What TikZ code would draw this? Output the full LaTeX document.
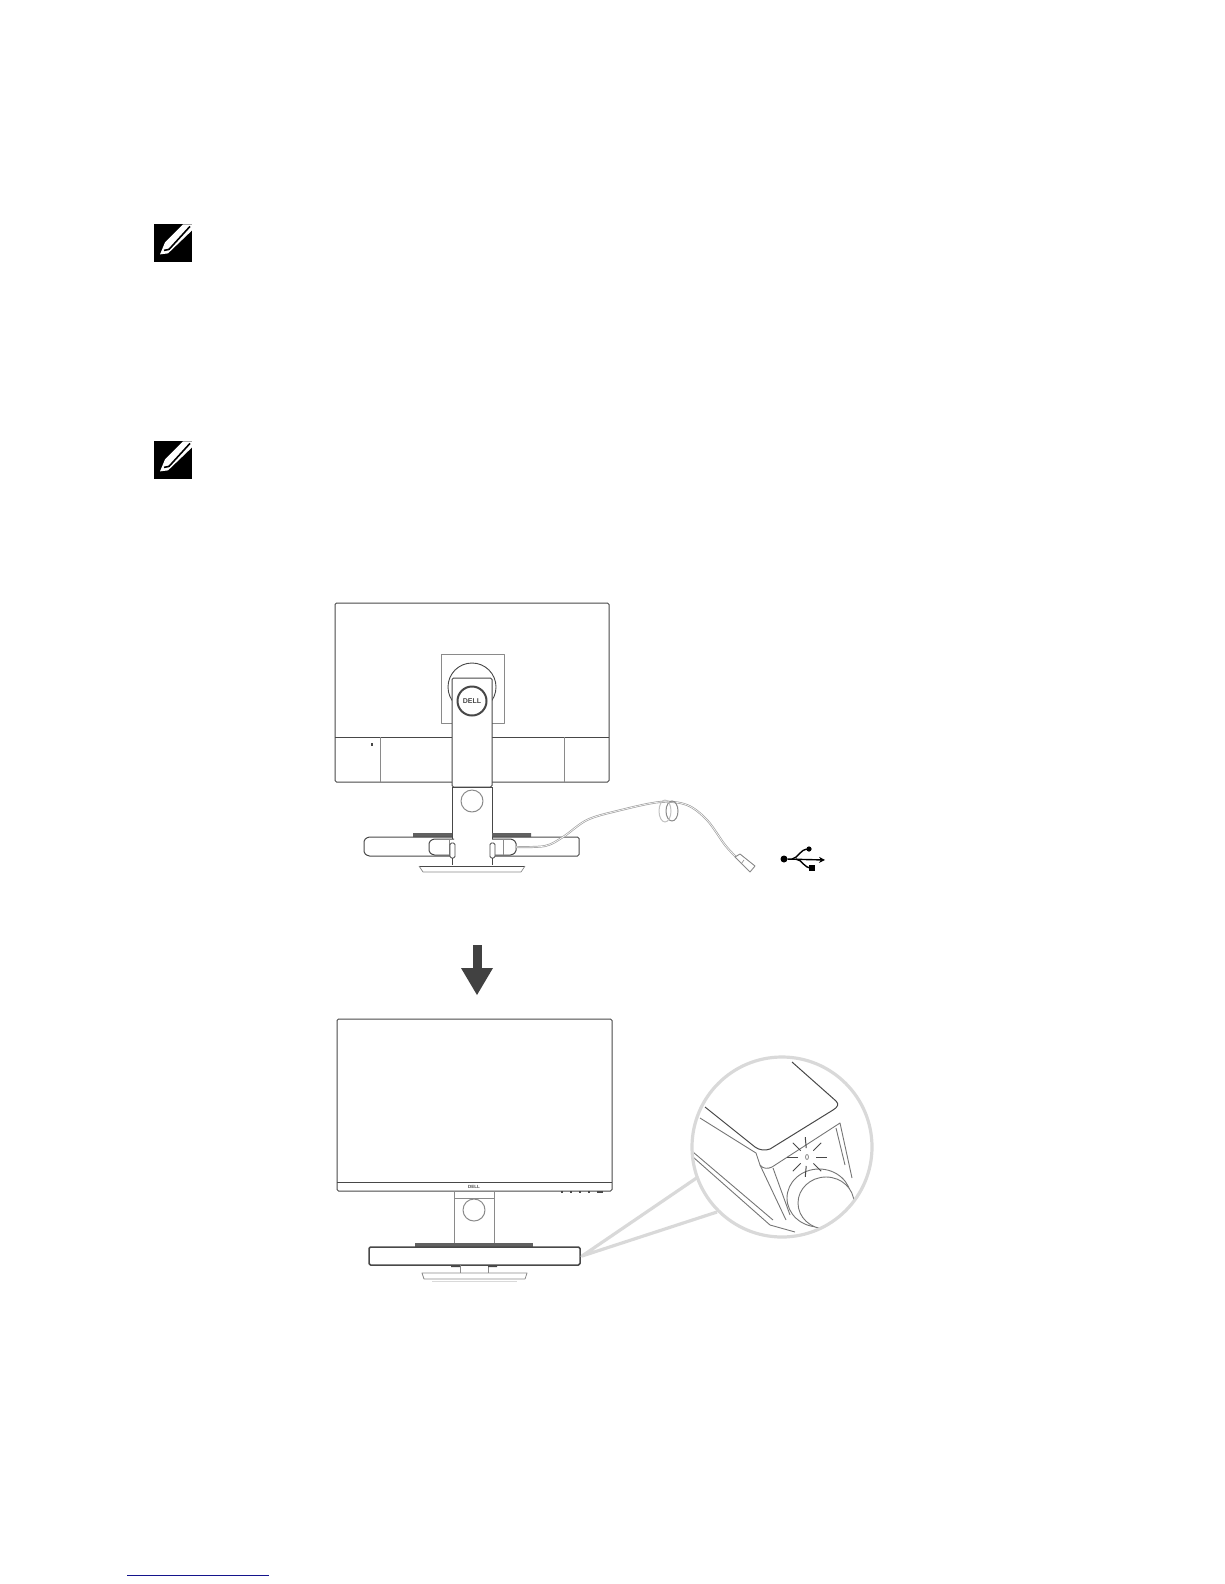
\documentclass[tikz,border=0pt]{standalone}
\usepackage{fontspec}
\setsansfont{Liberation Sans}
\usepackage{tikz}
\usetikzlibrary{arrows.meta,positioning}
\definecolor{inkgray}{HTML}{484848}
\definecolor{midgray}{HTML}{8A8A8A}
\definecolor{palegray}{HTML}{D9D9D9}
\definecolor{linkblue}{HTML}{14148C}
\begin{document}
\begin{tikzpicture}[x=1pt,y=-1pt,line join=round,
  hw/.style={draw=inkgray,line width=1pt,rounded corners=1.5pt},
  thin/.style={draw=midgray,line width=.8pt},
  detail/.style={draw=midgray!85!black,line width=.9pt},
  zoomline/.style={draw=palegray,line width=3.2pt},
  logo/.style={font=\sffamily\bfseries,inner sep=0pt,text=inkgray}]
\useasboundingbox (0,0) rectangle (1224,1584);
% note icons
\foreach \ny/\nm in {224/notea,441/noteb}{
  \node[fill=black,minimum size=38pt,inner sep=0pt,anchor=north west] (\nm) at (154,\ny) {};
  \fill[white] ([shift={(6,-8)}]\nm.south west) -- ++(5,-12) -- ++(18,-18) -- ++(9,0) -- ++(0,6) -- ++(-24,23) -- cycle;
  \draw[black,line width=1.6pt] ([shift={(10,-12)}]\nm.south west) -- ++(5,-1) -- ++(21,-23);
}
% rear view
\draw[hw] (335,603) rectangle (609,782);
\draw[hw] (335,737) -- (609,737);
\draw[thin] (380,737) -- (380,782) (564,737) -- (564,782);
\fill[inkgray] (371,743) rectangle (373,746);
\draw[thin,fill=white] (441,654) rectangle (504,723);
\node[draw=inkgray,line width=.9pt,circle,minimum size=48pt,inner sep=0pt] (mount) at (472,687) {};
\draw[hw,fill=white] (452,678) rectangle (492,787);
\draw[hw,fill=white] (452,787) -- (452,865) (492,787) -- (492,865) (452,787) -- (492,787);
\node[draw=inkgray,line width=2pt,circle,minimum size=29pt,inner sep=0pt,logo,font=\sffamily\bfseries\fontsize{7}{7}\selectfont] (dellrear) at (472,701) {DELL};
\node[draw=midgray,line width=1pt,circle,minimum size=22pt,inner sep=0pt] (holerear) at (472,801) {};
\fill[midgray!70!black] (413,833) rectangle (452,837) (492,833) rectangle (531,837);
\draw[hw] (452,837) -- (368,837) -- (364,840) -- (364,853) -- (368,856) -- (452,856);
\draw[hw] (492,837) -- (579,837) -- (579,856) -- (492,856);
\draw[hw,fill=white] (454,839) -- (433,839) -- (429,842) -- (429,852) -- (433,855) -- (454,855);
\draw[hw,fill=white] (492,839) -- (512,839) -- (516,842) -- (516,852) -- (512,855) -- (492,855);
\draw[thin] (449,839) -- (449,855) (503,839) -- (503,855);
\draw[hw,fill=white,line width=.8pt] (450,843) rectangle (455,858) (490,843) rectangle (495,858);
\draw[hw] (452,858) -- (452,865) (492,858) -- (492,865);
\draw[inkgray,line width=1pt] (419,866) -- (525,866);
\draw[midgray,line width=.7pt] (419,866) -- (423,872) -- (521,872) -- (525,866);
% cable
\coordinate (cablestart) at (516,847);
\coordinate (cableend) at (737,858);
\draw[midgray!80,line width=2pt] plot[smooth,tension=.55] coordinates {(cablestart) (545,846) (563,837) (587,820) (617,811) (660,802) (687,805) (707,820) (725,845) (cableend)};
\draw[white,line width=.6pt] plot[smooth,tension=.55] coordinates {(cablestart) (545,846) (563,837) (587,820) (617,811) (660,802) (687,805) (707,820) (725,845) (cableend)};
\draw[midgray,line width=1pt] (672,811) ellipse [x radius=6,y radius=10];
\draw[palegray!70!midgray,line width=1pt] (665,811) ellipse [x radius=6,y radius=11];
\draw[midgray,line width=.9pt,fill=white] (735,857) -- (740,854) -- (755,866) -- (750,872) -- cycle;
\draw[midgray,line width=.6pt] (744,860) -- (741,864);
% usb mark
\node[fill=black,circle,minimum size=7pt,inner sep=0pt] (usbdot) at (784,859) {};
\coordinate (usbtip) at (825,860);
\draw[black,line width=1.4pt,-{Stealth[length=6pt,width=6pt]}] (usbdot) -- (usbtip);
\draw[black,line width=1.4pt] (792,859) .. controls (799,858) and (799,849) .. (809,849);
\draw[black,line width=1.4pt] (796,859) .. controls (803,860) and (803,868) .. (812,868);
\fill[black] (809,849) circle (2.6pt);
\fill[black] (809,865) rectangle (815,871);
% down arrow
\coordinate (arrowtop) at (477,945);
\coordinate (arrowtip) at (477,995);
\fill[inkgray!90!black] (473,945) rectangle (482,969);
\fill[inkgray!90!black] (461,968) -- (493,968) -- (arrowtip) -- cycle;
% front view
\draw[hw] (337,1019) rectangle (612,1191);
\draw[hw] (337,1182) -- (612,1182);
\node[logo,font=\sffamily\bfseries\fontsize{4.5}{5}\selectfont] (dellfront) at (474,1186.5) {DELL};
\foreach \bx in {561,570,579,588}{\fill[inkgray] (\bx,1191) rectangle ++(1.6,2);}
\fill[inkgray] (597,1191) rectangle (603,1193);
\draw[thin] (454,1192) -- (454,1243) (494,1192) -- (494,1243) (454,1198) -- (494,1198);
\node[draw=midgray,line width=1pt,circle,minimum size=22pt,inner sep=0pt] (holefront) at (474,1210) {};
\fill[midgray!70!black] (415,1243) rectangle (533,1247);
\draw[hw,line width=1.5pt] (369,1247) rectangle (580,1265);
\draw[thin] (460,1265) -- (460,1273) (488,1265) -- (488,1273);
\fill[inkgray] (451,1265) rectangle (460,1267) (488,1265) rectangle (497,1267);
\draw[thin] (422,1273) -- (527,1273) -- (525,1279) -- (424,1279) -- cycle;
\draw[palegray] (432,1281) -- (517,1281);
% zoom callout
\coordinate (zoomtip) at (582,1256);
\coordinate (wedgea) at (698,1177);
\coordinate (wedgeb) at (717,1212);
\begin{scope}
\clip (782,1147) circle (89);
\draw[detail] (700,1118) -- (756,1153) -- (760,1165) .. controls (763,1169) and (768,1169) .. (772,1167) -- (840,1123) -- (852,1178);
\draw[detail] (836,1128) -- (845,1165);
\draw[detail] (760,1165) -- (786,1220);
\draw[detail] (773,1168) -- (790,1215);
\draw[detail] (693,1152) -- (773,1220);
\draw[detail] (693,1157) -- (770,1225) -- (795,1232);
\draw[inkgray,line width=1pt] (705,1107) -- (755,1147) .. controls (759,1150) and (765,1151) .. (770,1149) -- (833,1110) .. controls (838,1107) and (839,1104) .. (836,1101) -- (792,1062);
\draw[detail,fill=white] (819,1198) ellipse [x radius=32,y radius=29];
\draw[detail,fill=white] (826,1203) ellipse [x radius=28,y radius=26];
\end{scope}
\node[draw=palegray,line width=3.2pt,circle,minimum size=180pt,inner sep=0pt] (zoomcircle) at (782,1147) {};
\draw[zoomline] (wedgea) -- (zoomtip) -- (wedgeb);
% blinking light
\coordinate (lamp) at (807,1157);
\draw[midgray,line width=.8pt] (lamp) ellipse [x radius=1.5,y radius=2.5];
\foreach \ang in {0,45,95,135,180,225,265,315}{
  \draw[inkgray,line width=1pt] (lamp) ++(\ang:9) -- ++(\ang:11);
}
% bottom rule
\coordinate (rulea) at (127,1575);
\coordinate (ruleb) at (269,1575);
\draw[linkblue,line width=1pt] (rulea) -- (ruleb);
\end{tikzpicture}
\end{document}
